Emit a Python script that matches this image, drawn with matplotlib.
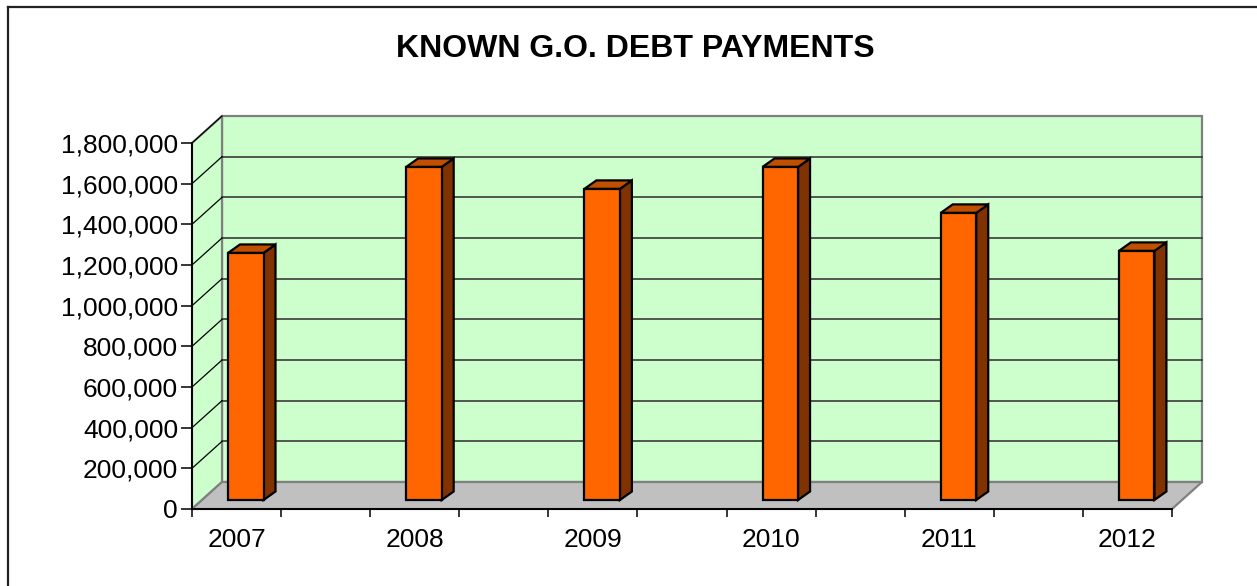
import matplotlib
matplotlib.use("Agg")
import matplotlib.pyplot as plt
from matplotlib.patches import Polygon
from matplotlib.lines import Line2D
from matplotlib.ticker import FuncFormatter, FixedLocator

plt.rcParams['font.family'] = ['Liberation Sans', 'DejaVu Sans']

title = "KNOWN G.O. DEBT PAYMENTS"
years = ["2007", "2008", "2009", "2010", "2011", "2012"]
payments = [1215000, 1638000, 1530000, 1638000, 1412000, 1225000]
y_ticks = [0, 200000, 400000, 600000, 800000, 1000000, 1200000, 1400000, 1600000, 1800000]

W, H = 1257, 586
fig = plt.figure(figsize=(W / 100, H / 100), dpi=100)
fig.patch.set_facecolor("white")

# front plane of the plot area in pixels
left_px, right_px, bottom_px, top_px = 192, 1172, 509, 143
ax = fig.add_axes([left_px / W, 1 - bottom_px / H, (right_px - left_px) / W, (bottom_px - top_px) / H])
nslots = 2 * len(years) - 1
ymax = y_ticks[-1]
ax.set_xlim(0, nslots)
ax.set_ylim(0, ymax)
ax.set_facecolor("none")

px_x = nslots / (right_px - left_px)       # data units per pixel (x)
px_y = ymax / (bottom_px - top_px)          # data units per pixel (y)
DX, DY = 30 * px_x, 27 * px_y               # depth of the chart box

green = "#CCFFCC"
wall_edge = "#808080"

# back wall
ax.add_patch(Polygon([(DX, DY), (nslots + DX, DY), (nslots + DX, ymax + DY), (DX, ymax + DY)],
                     closed=True, facecolor=green, edgecolor=wall_edge, lw=1.6, zorder=1, clip_on=False))
# side wall
ax.add_patch(Polygon([(0, 0), (DX, DY), (DX, ymax + DY), (0, ymax)],
                     closed=True, facecolor=green, edgecolor=wall_edge, lw=1.6, zorder=1, clip_on=False))
# floor
ax.add_patch(Polygon([(0, 0), (nslots, 0), (nslots + DX, DY), (DX, DY)],
                     closed=True, facecolor="#C0C0C0", edgecolor=wall_edge, lw=1.6, zorder=1, clip_on=False))

# gridlines
for v in y_ticks[1:-1]:
    ax.add_line(Line2D([DX, nslots + DX], [v + DY, v + DY], color="#3a3a3a", lw=1.2, zorder=1.5, clip_on=False))
for v in y_ticks[1:]:
    ax.add_line(Line2D([0, DX], [v, v + DY], color="black", lw=0.9, zorder=1.5, clip_on=False))

# bars
fy0 = 9 * px_y                 # front face base (depth into the floor)
bdx, bdy = 12 * px_x, 8.5 * px_y
bar_off = 36 * px_x
bar_w = 35.5 * px_x
for i, v in enumerate(payments):
    s = 2 * i
    x0 = s + bar_off
    x1 = x0 + bar_w
    yb, yt = fy0, v + fy0
    front = [(x0, yb), (x1, yb), (x1, yt), (x0, yt)]
    top = [(x0, yt), (x1, yt), (x1 + bdx, yt + bdy), (x0 + bdx, yt + bdy)]
    side = [(x1, yb), (x1 + bdx, yb + bdy), (x1 + bdx, yt + bdy), (x1, yt)]
    for poly, col in ((side, "#803300"), (top, "#C05000"), (front, "#FF6600")):
        ax.add_patch(Polygon(poly, closed=True, facecolor=col, edgecolor="black", lw=1.6,
                             joinstyle="miter", zorder=3, clip_on=False))

# axes
for sp in ("top", "right"):
    ax.spines[sp].set_visible(False)
for sp in ("left", "bottom"):
    ax.spines[sp].set_color("black")
    ax.spines[sp].set_linewidth(1.4)
    ax.spines[sp].set_zorder(2)

ax.yaxis.set_major_locator(FixedLocator(y_ticks))
ax.yaxis.set_major_formatter(FuncFormatter(lambda v, p: f"{v:,.0f}"))
ax.tick_params(axis="y", length=8, width=1.1, color="black", pad=2, labelsize=19)

ax.set_xticks([2 * i + 0.5 for i in range(len(years))])
ax.set_xticklabels(years)
ax.set_xticks(range(nslots + 1), minor=True)
ax.tick_params(axis="x", which="major", length=0, pad=14, labelsize=19)
ax.tick_params(axis="x", which="minor", length=6, width=1.1, color="black")

fig.text(635.5 / W, 1 - 49 / H, title, ha="center", va="center", fontsize=23, fontweight="bold")

# outer border (top and left edges visible)
fig.add_artist(Line2D([8 / W, 1], [1 - 7 / H, 1 - 7 / H], color="#222222", lw=1.6, transform=fig.transFigure))
fig.add_artist(Line2D([8 / W, 8 / W], [1 - 7 / H, 0], color="#222222", lw=1.6, transform=fig.transFigure))

fig.savefig("out.png", dpi=100)
